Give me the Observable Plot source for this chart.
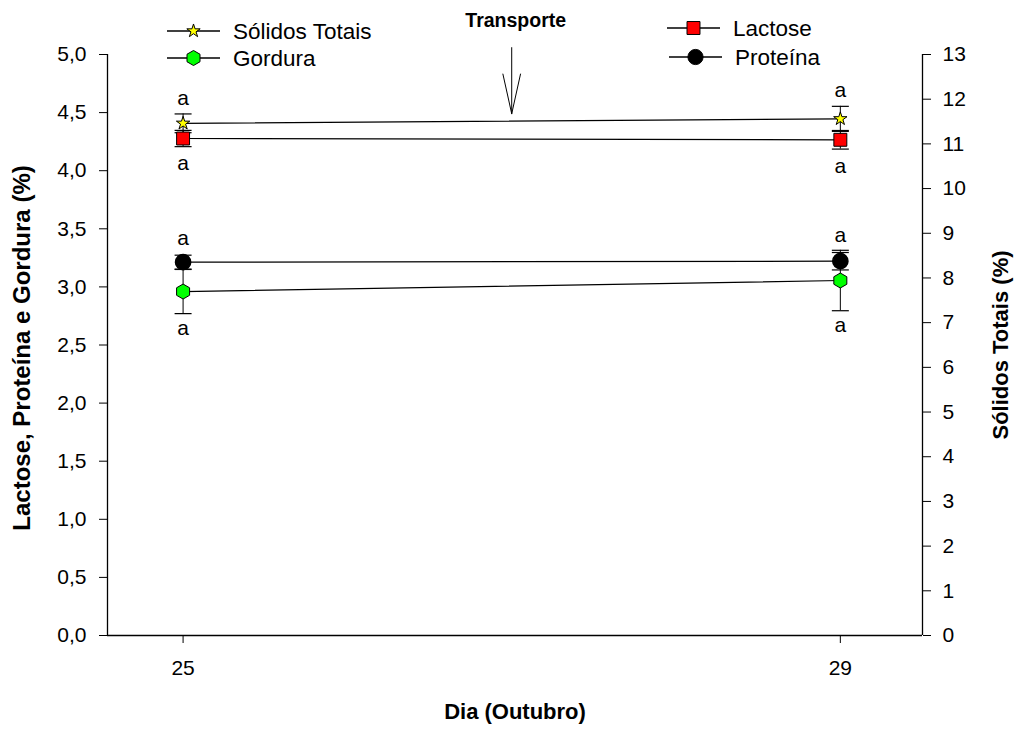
<!DOCTYPE html>
<html><head><meta charset="utf-8">
<script src="https://cdn.jsdelivr.net/npm/d3@7"></script>
<script src="https://cdn.jsdelivr.net/npm/@observablehq/plot@0.6"></script>
<style>
body{margin:0;background:#fff;}
#chart{position:relative;width:1018px;height:729px;}
</style>
</head><body><div id="chart"></div>
<script>
// ---- data ----
const days = [25, 29];
const solidosTotais = [11.46, 11.56];      // right axis (%)
const solidosTotaisErr = [0.21, 0.28];
const lactose = [4.277, 4.266];            // left axis (%)
const lactoseErr = [0.07, 0.08];
const proteina = [3.213, 3.221];
const proteinaErr = [0.06, 0.075];
const gordura = [2.96, 3.055];
const gorduraErr = [0.19, 0.26];
const significance = ["a", "a"];
const leftTicks = [0, 0.5, 1, 1.5, 2, 2.5, 3, 3.5, 4, 4.5, 5];
const rightTicks = [0, 1, 2, 3, 4, 5, 6, 7, 8, 9, 10, 11, 12, 13];
const transport = [{day: 27, top: 5.06, tip: 4.49, label: "Transporte"}];

const leftMax = 5, rightMax = 13;
const toLeft = v => v * leftMax / rightMax;

function series(name, vals, errs, conv = v => v) {
  return days.map((d, i) => ({name, day: d, value: conv(vals[i]), err: conv(errs[i]), sig: significance[i]}));
}
const stRows = series("Sólidos Totais", solidosTotais, solidosTotaisErr, toLeft);
const laRows = series("Lactose", lactose, lactoseErr);
const prRows = series("Proteína", proteina, proteinaErr);
const goRows = series("Gordura", gordura, gorduraErr);
const allRows = [...stRows, ...laRows, ...prRows, ...goRows];

// custom symbols
const capSymbol = {draw(ctx, size) { const r = Math.sqrt(size / Math.PI); ctx.moveTo(-r, 0); ctx.lineTo(r, 0); }};
const hexSymbol = {draw(ctx, size) {
  const rx = Math.sqrt(size / Math.PI), ry = rx * 2 / Math.sqrt(3), hy = ry / 2;
  ctx.moveTo(0, ry); ctx.lineTo(rx, hy); ctx.lineTo(rx, -hy); ctx.lineTo(0, -ry);
  ctx.lineTo(-rx, -hy); ctx.lineTo(-rx, hy); ctx.closePath();
}};

const FONT = "'Liberation Sans', Arial, sans-serif";
const xDomain = [24.54, 29.5];

const plot = Plot.plot({
  width: 1018, height: 729,
  marginTop: 54, marginBottom: 94, marginLeft: 107, marginRight: 96,
  style: {fontFamily: FONT, fontSize: "21px", color: "black", background: "white"},
  x: {domain: xDomain},
  y: {domain: [0, leftMax]},
  marks: [
    Plot.ruleX(xDomain, {stroke: "black", strokeWidth: 1.3}),
    Plot.ruleY([0], {stroke: "black", strokeWidth: 1.3}),
    Plot.axisY(leftTicks, {anchor: "left", tickSize: 8, tickPadding: 13, fontSize: 21, label: null,
      tickFormat: d => d.toFixed(1).replace(".", ",")}),
    Plot.axisY(rightTicks.map(toLeft), {anchor: "right", tickSize: 8, tickPadding: 12, fontSize: 21, label: null,
      tickFormat: d => String(Math.round(d * rightMax / leftMax))}),
    Plot.axisX(days, {tickSize: 8, tickPadding: 17, fontSize: 21, label: null, tickFormat: d => String(d)}),
    Plot.text(["Dia (Outubro)"], {frameAnchor: "bottom", dy: 83, fontWeight: "bold", fontSize: 22}),
    Plot.text(["Lactose, Proteína e Gordura (%)"], {frameAnchor: "left", textAnchor: "middle", dx: -85, dy: 3, rotate: -90, fontWeight: "bold", fontSize: 24}),
    Plot.text(["Sólidos Totais (%)"], {frameAnchor: "right", textAnchor: "middle", dx: 78, rotate: -90, fontWeight: "bold", fontSize: 22}),
    // error bars
    Plot.ruleX(allRows, {x: "day", y1: d => d.value - d.err, y2: d => d.value + d.err, stroke: "black"}),
    Plot.dot(allRows, {x: "day", y: d => d.value - d.err, symbol: capSymbol, r: 8.5, stroke: "black", fill: "none", strokeWidth: 1.2}),
    Plot.dot(allRows, {x: "day", y: d => d.value + d.err, symbol: capSymbol, r: 8.5, stroke: "black", fill: "none", strokeWidth: 1.2}),
    // lines
    Plot.line(allRows, {x: "day", y: "value", z: "name", stroke: "black", strokeWidth: 1.2}),
    // markers
    Plot.dot(goRows, {x: "day", y: "value", symbol: hexSymbol, r: 6.5, fill: "#00ff00", stroke: "black", strokeWidth: 1}),
    Plot.dot(prRows, {x: "day", y: "value", symbol: "circle", r: 7.6, fill: "black", stroke: "black"}),
    Plot.dot(laRows, {x: "day", y: "value", symbol: "square", r: 7.3, fill: "#ff0000", stroke: "black", strokeWidth: 1}),
    Plot.dot(stRows, {x: "day", y: "value", symbol: "star", r: 4.2, fill: "#ffff00", stroke: "black", strokeWidth: 1}),
    // significance letters
    Plot.text(stRows, {x: "day", y: d => d.value + d.err, text: "sig", dy: -16, fontSize: 21}),
    Plot.text(laRows, {x: "day", y: d => d.value - d.err, text: "sig", dy: 17, fontSize: 21}),
    Plot.text(prRows, {x: "day", y: d => d.value + d.err, text: "sig", dy: -17, fontSize: 21}),
    Plot.text(goRows, {x: "day", y: d => d.value - d.err, text: "sig", dy: 15, fontSize: 21}),
    // transport annotation
    Plot.arrow(transport, {x: "day", y1: d => d.top + 0.55, y2: "tip", insetStart: 64, headAngle: 25, headLength: 61, stroke: "black", strokeWidth: 1}),
    Plot.text(transport, {x: "day", y: "top", text: "label", dy: -27, dx: 4, fontWeight: "bold", fontSize: 19.5})
  ]
});
document.getElementById("chart").appendChild(plot);

// ---- legend (drawn into the same svg) ----
const legendLayout = [
  {label: "Sólidos Totais", symbol: d3.symbolStar, r: 4.2, fill: "#ffff00", x0: 167, x1: 220, y: 31, tx: 233},
  {label: "Gordura", symbol: hexSymbol, r: 6.5, fill: "#00ff00", x0: 167, x1: 220, y: 58, tx: 233},
  {label: "Lactose", symbol: d3.symbolSquare, r: 7.3, fill: "#ff0000", x0: 667, x1: 720, y: 28, tx: 733},
  {label: "Proteína", symbol: d3.symbolCircle, r: 7.6, fill: "black", x0: 669, x1: 722, y: 57, tx: 735}
];
const svg = d3.select(plot);
const lg = svg.append("g").attr("font-family", FONT).attr("font-size", 22.5).attr("text-anchor", "start");
for (const it of legendLayout) {
  const g = lg.append("g");
  g.append("line").attr("x1", it.x0).attr("x2", it.x1).attr("y1", it.y).attr("y2", it.y).attr("stroke", "black").attr("stroke-width", 1.3);
  g.append("path").attr("transform", `translate(${(it.x0 + it.x1) / 2},${it.y})`)
    .attr("d", d3.symbol(it.symbol, Math.PI * it.r * it.r)())
    .attr("fill", it.fill).attr("stroke", "black");
  g.append("text").attr("x", it.tx).attr("y", it.y).attr("dy", "0.35em").attr("text-anchor", "start").text(it.label);
}
</script>
</body></html>
